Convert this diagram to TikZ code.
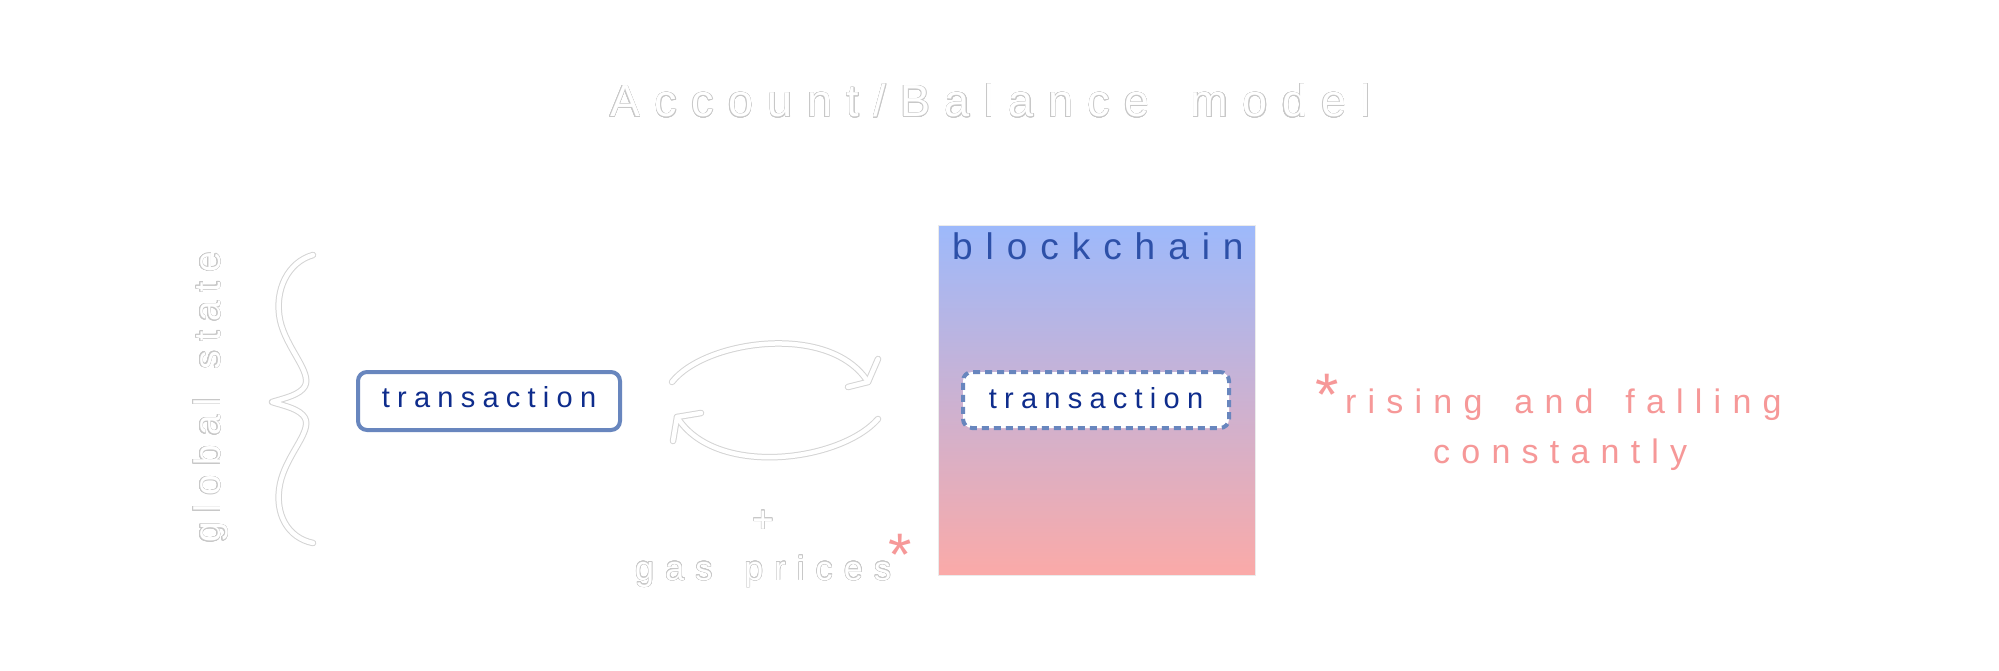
\documentclass[tikz,border=0pt]{standalone}
\usepackage{fontspec}
\setmainfont{Liberation Sans}
\usepackage[copies]{contour}
\contourlength{0.5pt}
\contournumber{20}
\definecolor{boxblue}{RGB}{104,134,190}
\definecolor{txtblue}{RGB}{14,44,140}
\definecolor{chainblue}{RGB}{45,80,168}
\definecolor{salmon}{RGB}{246,152,152}
\definecolor{ghostline}{RGB}{200,200,200}
\definecolor{ghoststroke}{RGB}{212,212,212}
\definecolor{gradtop}{RGB}{157,185,251}
\definecolor{gradbot}{RGB}{251,170,168}
\newcommand\fs[2]{\fontsize{#1}{#1}\selectfont\addfontfeatures{LetterSpace=#2}}
\newcommand\ghost[1]{\contour{ghostline}{#1}}
\newcommand\ghostpaths{%
  \draw (brtop) .. controls (288,262) and (274,290) .. (280,320)
        .. controls (286,348) and (312,372) .. (305,386)
        .. controls (300,395) and (285,398) .. (brtip)
        .. controls (285,406) and (300,409) .. (305,418)
        .. controls (312,432) and (286,455) .. (280,484)
        .. controls (274,514) and (288,538) .. (brbot);
  \draw (c1s) .. controls (705,340) and (830,322) .. (c1e);
  \draw (c1l) -- (c1e) -- (c1r);
  \draw (c2s) .. controls (840,462) and (715,478) .. (c2e);
  \draw (c2l) -- (c2e) -- (c2r);
}
\tikzset{
  ghosttext/.style={text=white, inner sep=0pt, anchor=base west},
  txbox/.style={draw=boxblue, line width=4pt, rounded corners=9pt, fill=white,
    text=txtblue, inner sep=0pt, minimum width=262pt, minimum height=58pt,
    text depth=0pt, font={\fs{29}{25}}},
  redtext/.style={text=salmon, inner sep=0pt, anchor=base west, font={\fs{34}{33}}},
  redstar/.style={text=salmon, inner sep=0pt, anchor=base, font={\fontsize{60}{60}\selectfont}},
  outerstroke/.style={color=ghoststroke, line width=6.5pt, line cap=round, line join=round},
  innerstroke/.style={color=white, line width=4.5pt, line cap=round, line join=round}
}
\begin{document}
\begin{tikzpicture}[x=1pt,y=-1pt]
\useasboundingbox (0,0) rectangle (1999,671);
\fill[white] (0,0) rectangle (1999,671);

% title
\node[ghosttext, font={\fs{45}{32}}] (title) at (610,117) {\ghost{Account/Balance\hspace{14.4pt} model}};

% global state
\node[ghosttext, rotate=90, font={\fs{37}{25}}] (global) at (220,543) {\ghost{global\hspace{9.2pt} state}};

% coordinates for brace and cycle arrows
\coordinate (brtop) at (313,255);
\coordinate (brtip) at (272,402);
\coordinate (brbot) at (313,543);
\coordinate (c1s) at (672,382);
\coordinate (c1e) at (868,382);
\coordinate (c1l) at (878,359);
\coordinate (c1r) at (848,387);
\coordinate (c2s) at (878,419);
\coordinate (c2e) at (677,417);
\coordinate (c2l) at (701,413);
\coordinate (c2r) at (673,441);
\begin{scope}[outerstroke]\ghostpaths\end{scope}
\begin{scope}[innerstroke]\ghostpaths\end{scope}

% first transaction
\node[txbox, text height=12pt] (tx1) at (489,401) {transaction};

% plus and gas prices
\node[ghosttext, anchor=base, font={\fontsize{37}{37}\selectfont}] (plus) at (763,532) {\ghost{+}};
\node[ghosttext, font={\fs{34}{33}}] (gas) at (635,580) {\ghost{gas\hspace{11.2pt} prices}};
\node[redstar] (star1) at (900,575) {*};

% blockchain
\node[draw=black!8, line width=1pt, top color=gradtop, bottom color=gradbot,
  minimum width=317pt, minimum height=350pt, inner sep=0pt, anchor=north west] (chain) at (938,225) {};
\node[inner sep=0pt, anchor=base west, text=chainblue, font={\fs{37}{35}}] (chainlbl) at (952,259) {blockchain};
\node[txbox, dash pattern=on 7pt off 5pt, text height=16pt, minimum width=266pt, minimum height=56pt] (tx2) at (1096,400) {transaction};

% note
\node[redstar] (star2) at (1327,415) {*};
\node[redtext] (note1) at (1345,413) {rising\hspace{11.2pt} and\hspace{11.2pt} falling};
\node[redtext] (note2) at (1433,463) {constantly};
\end{tikzpicture}
\end{document}
